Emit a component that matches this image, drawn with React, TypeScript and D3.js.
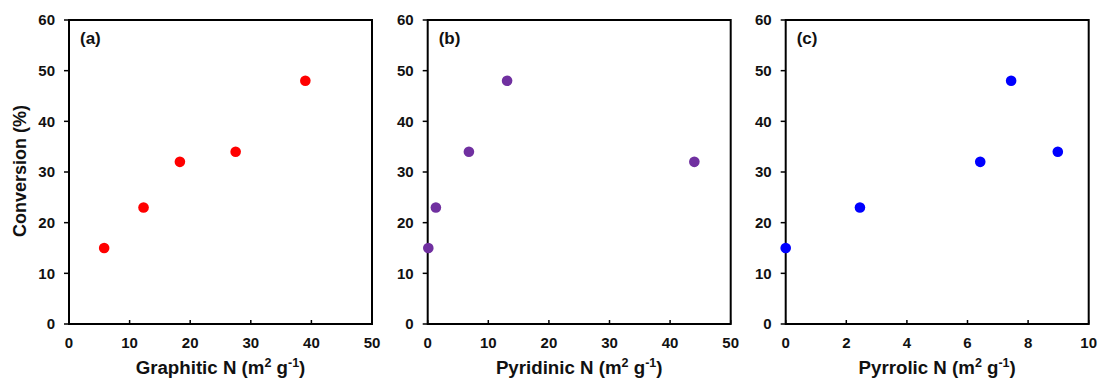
import React from 'react';
import * as d3 from 'd3';

// conversion values shared across panels
const graphiticN = [5.8, 12.3, 18.3, 27.5, 39.0];
const graphiticConv = [15, 23, 32, 34, 48];

const pyridinicN = [0.1, 1.35, 6.8, 13.1, 44.0];
const pyridinicConv = [15, 23, 34, 48, 32];

const pyrrolicN = [0.0, 2.45, 6.42, 7.44, 8.98];
const pyrrolicConv = [15, 23, 32, 48, 34];

const yTicks = [0, 10, 20, 30, 40, 50, 60];
const xTicksWide = [0, 10, 20, 30, 40, 50];
const xTicksNarrow = [0, 2, 4, 6, 8, 10];

const panels = [
  { tag: '(a)', name: 'Graphitic N', xs: graphiticN, ys: graphiticConv, xMax: 50, ticks: xTicksWide, color: '#ff0000', left: 69 },
  { tag: '(b)', name: 'Pyridinic N', xs: pyridinicN, ys: pyridinicConv, xMax: 50, ticks: xTicksWide, color: '#7030a0', left: 427.7 },
  { tag: '(c)', name: 'Pyrrolic N', xs: pyrrolicN, ys: pyrrolicConv, xMax: 10, ticks: xTicksNarrow, color: '#0000ff', left: 785.7 },
];

const width = 1099;
const height = 381;
const top = 20;
const bottom = 324;
const plotW = 303;
const font = '"Liberation Sans", Arial, sans-serif';

const Panel = ({ p }) => {
  const x = d3.scaleLinear().domain([0, p.xMax]).range([p.left, p.left + plotW]);
  const y = d3.scaleLinear().domain([0, 60]).range([bottom, top]);
  const pts = p.xs.map((v, i) => ({ x: v, y: p.ys[i] }));

  return (
    <g>
      {/* frame */}
      <rect x={p.left} y={top} width={plotW} height={bottom - top} fill="none" stroke="#000" strokeWidth={2} />

      {yTicks.map(t => (
        <g key={'y' + t}>
          <line x1={p.left - 5} x2={p.left} y1={y(t)} y2={y(t)} stroke="#000" strokeWidth={1.5} />
          <text x={p.left - 14} y={y(t)} dy="0.35em" textAnchor="end" fontSize={15} fontWeight="bold" fill="#111">{t}</text>
        </g>
      ))}

      {p.ticks.map(t => (
        <g key={'x' + t}>
          <line x1={x(t)} x2={x(t)} y1={bottom} y2={bottom - 4} stroke="#000" strokeWidth={1.5} />
          <text x={x(t)} y={348} textAnchor="middle" fontSize={15} fontWeight="bold" fill="#111">{t}</text>
        </g>
      ))}

      <text x={p.left + 11} y={44} fontSize={17} fontWeight="bold" fill="#111">{p.tag}</text>

      <text x={p.left + plotW / 2} y={374} textAnchor="middle" fontSize={18.7} fontWeight="bold" fill="#111">
        {p.name} (m<tspan fontSize={12.5} dy={-7}>2</tspan><tspan dy={7}> g</tspan><tspan fontSize={12.5} dy={-7}>-1</tspan><tspan dy={7}>)</tspan>
      </text>

      {pts.map((d, i) => (
        <circle key={i} cx={x(d.x)} cy={y(d.y)} r={5.3} fill={p.color} />
      ))}
    </g>
  );
};

export default function App() {
  return (
    <svg width={width} height={height} style={{ position: 'absolute', left: 0, top: 0, background: '#fff' }} fontFamily={font}>
      <rect width={width} height={height} fill="#fff" />
      <text transform="translate(26,171) rotate(-90)" textAnchor="middle" fontSize={18} fontWeight="bold" fill="#111">
        Conversion (%)
      </text>
      {panels.map(p => <Panel key={p.tag} p={p} />)}
    </svg>
  );
}
